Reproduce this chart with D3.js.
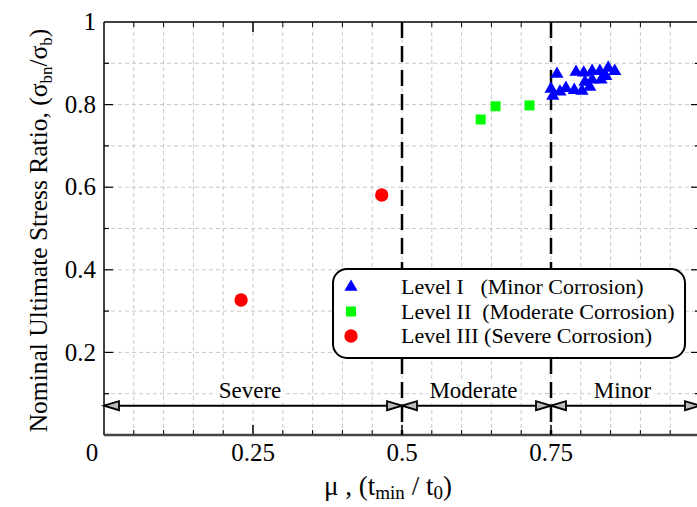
<!DOCTYPE html>
<html>
<head>
<meta charset="utf-8">
<script src="https://cdn.jsdelivr.net/npm/d3@7"></script>
<style>
body { margin: 0; background: #fff; }
text { font-family: "Liberation Serif", "Times New Roman", serif; fill: #000; }
</style>
</head>
<body>
<svg id="chart"></svg>
<script>
// data
const levelIX = [0.760, 0.750, 0.753, 0.765, 0.775, 0.789, 0.802, 0.815, 0.792, 0.805, 0.819, 0.832, 0.846, 0.857, 0.819, 0.834, 0.842, 0.807];
const levelIY = [0.874, 0.838, 0.821, 0.831, 0.840, 0.835, 0.833, 0.843, 0.879, 0.877, 0.881, 0.881, 0.889, 0.881, 0.860, 0.860, 0.869, 0.855];
const levelIIX = [0.632, 0.657, 0.714];
const levelIIY = [0.764, 0.796, 0.798];
const levelIIIX = [0.230, 0.466];
const levelIIIY = [0.327, 0.581];

const xTickLabels = [0.25, 0.5, 0.75];
const yTickLabels = [0.2, 0.4, 0.6, 0.8, 1];
const zoneBounds = [0, 0.5, 0.75, 1];
const zoneNames = ["Severe", "Moderate", "Minor"];
const zoneArrowY = 0.071;
const legendLabels = ["Level I   (Minor Corrosion)", "Level II  (Moderate Corrosion)", "Level III (Severe Corrosion)"];

const width = 697, height = 507;
const margin = {left: 104, top: 22};
const plotW = 596, plotH = 413;

const svg = d3.select("#chart").attr("width", width).attr("height", height);
const x = d3.scaleLinear().domain([0, 1]).range([margin.left, margin.left + plotW]);
const y = d3.scaleLinear().domain([0, 1]).range([margin.top + plotH, margin.top]);

// grid
const g = svg.append("g");
g.selectAll(".vgrid")
  .data(d3.range(1, 20).map(d => d * 0.05))
  .enter().append("line")
  .attr("x1", d => x(d)).attr("x2", d => x(d))
  .attr("y1", y(0)).attr("y2", y(1))
  .attr("stroke", "#c8c8c8").attr("stroke-width", 1).attr("stroke-dasharray", "4,3");
g.selectAll(".hgrid")
  .data(d3.range(1, 10).map(d => d * 0.1))
  .enter().append("line")
  .attr("y1", d => y(d)).attr("y2", d => y(d))
  .attr("x1", x(0)).attr("x2", x(1))
  .attr("stroke", "#c8c8c8").attr("stroke-width", 1).attr("stroke-dasharray", "4,3");

// ticks, inward on all sides
const xt = d3.range(1, 20).map(d => d * 0.05);
const isMajorX = d => Math.abs(d * 4 - Math.round(d * 4)) < 1e-6;
g.selectAll(".xtb").data(xt).enter().append("line")
  .attr("x1", d => x(d)).attr("x2", d => x(d))
  .attr("y1", y(0)).attr("y2", d => y(0) - (isMajorX(d) ? 10 : 5))
  .attr("stroke", "#000").attr("stroke-width", d => isMajorX(d) ? 1.5 : 1);
g.selectAll(".xtt").data(xt).enter().append("line")
  .attr("x1", d => x(d)).attr("x2", d => x(d))
  .attr("y1", y(1)).attr("y2", d => y(1) + (isMajorX(d) ? 10 : 5))
  .attr("stroke", "#000").attr("stroke-width", d => isMajorX(d) ? 1.5 : 1);
const yt = d3.range(1, 10).map(d => d * 0.1);
const isMajorY = d => Math.round(d * 10) % 2 === 0;
g.selectAll(".ytl").data(yt).enter().append("line")
  .attr("y1", d => y(d)).attr("y2", d => y(d))
  .attr("x1", x(0)).attr("x2", d => x(0) + (isMajorY(d) ? 9 : 5))
  .attr("stroke", "#000").attr("stroke-width", 1.2);
g.selectAll(".ytr").data(yt).enter().append("line")
  .attr("y1", d => y(d)).attr("y2", d => y(d))
  .attr("x1", x(1)).attr("x2", d => x(1) - (isMajorY(d) ? 9 : 5))
  .attr("stroke", "#000").attr("stroke-width", 1.2);

// frame
g.append("line").attr("x1", x(0)).attr("x2", x(1)).attr("y1", y(1)).attr("y2", y(1)).attr("stroke", "#000").attr("stroke-width", 1.5);
g.append("line").attr("x1", x(0)).attr("x2", x(0)).attr("y1", y(0)).attr("y2", y(1)).attr("stroke", "#000").attr("stroke-width", 1.5);
g.append("line").attr("x1", x(1)).attr("x2", x(1)).attr("y1", y(0)).attr("y2", y(1)).attr("stroke", "#000").attr("stroke-width", 1.5);
g.append("line").attr("x1", x(0)).attr("x2", x(1)).attr("y1", y(0)).attr("y2", y(0)).attr("stroke", "#444").attr("stroke-width", 2.5);

// zone boundaries
g.selectAll(".zone").data(zoneBounds.slice(1, 3)).enter().append("line")
  .attr("x1", d => x(d)).attr("x2", d => x(d))
  .attr("y1", y(1)).attr("y2", y(0))
  .attr("stroke", "#000").attr("stroke-width", 2.5).attr("stroke-dasharray", "16,8");

// zone labels with white backing
const zl = g.selectAll(".zl").data(zoneNames).enter().append("g");
zl.append("text")
  .attr("x", (d, i) => (x(zoneBounds[i]) + x(zoneBounds[i + 1])) / 2 - 3)
  .attr("y", y(zoneArrowY) - 8)
  .attr("text-anchor", "middle").attr("font-size", 23)
  .text(d => d);
zl.each(function () {
  const t = d3.select(this).select("text");
  const b = t.node().getBBox();
  d3.select(this).insert("rect", "text")
    .attr("x", b.x - 2).attr("y", b.y + 2).attr("width", b.width + 4).attr("height", b.height - 4)
    .attr("fill", "#fff");
});

// zone arrows
const ay = y(zoneArrowY);
g.append("line").attr("x1", x(0)).attr("x2", x(1)).attr("y1", ay).attr("y2", ay)
  .attr("stroke", "#000").attr("stroke-width", 2);
const heads = [];
for (let i = 0; i < 3; i++) {
  heads.push({tip: zoneBounds[i], dir: -1});
  heads.push({tip: zoneBounds[i + 1], dir: 1});
}
g.selectAll(".head").data(heads).enter().append("path")
  .attr("d", d => {
    const tx = x(d.tip), bx = tx - d.dir * 15;
    return `M${tx},${ay}L${bx},${ay - 4.5}L${bx},${ay + 4.5}Z`;
  })
  .attr("fill", "#bbb").attr("stroke", "#000").attr("stroke-width", 1.8);

// tick labels
svg.selectAll(".xl").data(xTickLabels).enter().append("text")
  .attr("x", d => x(d)).attr("y", y(0) + 26)
  .attr("text-anchor", "middle").attr("font-size", 25)
  .text(d => d);
svg.append("text").attr("x", x(0) - 12).attr("y", y(0) + 26)
  .attr("text-anchor", "middle").attr("font-size", 25).text("0");
svg.selectAll(".yl").data(yTickLabels).enter().append("text")
  .attr("x", x(0) - 8).attr("y", d => y(d)).attr("dy", "0.33em")
  .attr("text-anchor", "end").attr("font-size", 25)
  .text(d => d);

// axis titles
const yt1 = svg.append("text")
  .attr("transform", `translate(47,${y(0.5) + 2}) rotate(-90)`)
  .attr("text-anchor", "middle").attr("font-size", 25.5);
yt1.append("tspan").text("Nominal Ultimate Stress Ratio, (σ");
yt1.append("tspan").attr("font-size", 17).attr("dy", 5).text("bn");
yt1.append("tspan").attr("dy", -5).text("/σ");
yt1.append("tspan").attr("font-size", 17).attr("dy", 5).text("b");
yt1.append("tspan").attr("dy", -5).text(")");

const xt1 = svg.append("text")
  .attr("x", 388).attr("y", 495)
  .attr("text-anchor", "middle").attr("font-size", 27);
xt1.append("tspan").text("μ , (t");
xt1.append("tspan").attr("font-size", 19).attr("dy", 4).text("min");
xt1.append("tspan").attr("dy", -4).text(" / t");
xt1.append("tspan").attr("font-size", 19).attr("dy", 4).text("0");
xt1.append("tspan").attr("dy", -4).text(")");

// points
const tri = d3.symbol().type(d3.symbolTriangle).size(75);
const sq = d3.symbol().type(d3.symbolSquare).size(100);
const circ = d3.symbol().type(d3.symbolCircle).size(140);

svg.selectAll(".l3").data(levelIIIX).enter().append("path")
  .attr("d", circ).attr("fill", "#ff0000")
  .attr("transform", (d, i) => `translate(${x(d)},${y(levelIIIY[i])})`);
svg.selectAll(".l2").data(levelIIX).enter().append("path")
  .attr("d", sq).attr("fill", "#00ff00")
  .attr("transform", (d, i) => `translate(${x(d)},${y(levelIIY[i])})`);
svg.selectAll(".l1").data(levelIX).enter().append("path")
  .attr("d", tri).attr("fill", "#0000ff")
  .attr("transform", (d, i) => `translate(${x(d)},${y(levelIY[i])})`);

// legend
const leg = svg.append("g");
leg.append("rect").attr("x", 333).attr("y", 269).attr("width", 352).attr("height", 89)
  .attr("rx", 14).attr("fill", "#fff").attr("stroke", "#000").attr("stroke-width", 2);
const legSyms = [[tri, "#0000ff"], [sq, "#00ff00"], [circ, "#ff0000"]];
const legRows = leg.selectAll(".lr").data(legendLabels).enter().append("g")
  .attr("transform", (d, i) => `translate(0,${287 + i * 24.5})`);
legRows.append("path")
  .attr("d", (d, i) => legSyms[i][0]())
  .attr("fill", (d, i) => legSyms[i][1])
  .attr("transform", "translate(351,0)");
legRows.append("text")
  .attr("x", 401).attr("dy", "0.33em").attr("font-size", 22)
  .style("white-space", "pre")
  .text(d => d);
</script>
</body>
</html>
